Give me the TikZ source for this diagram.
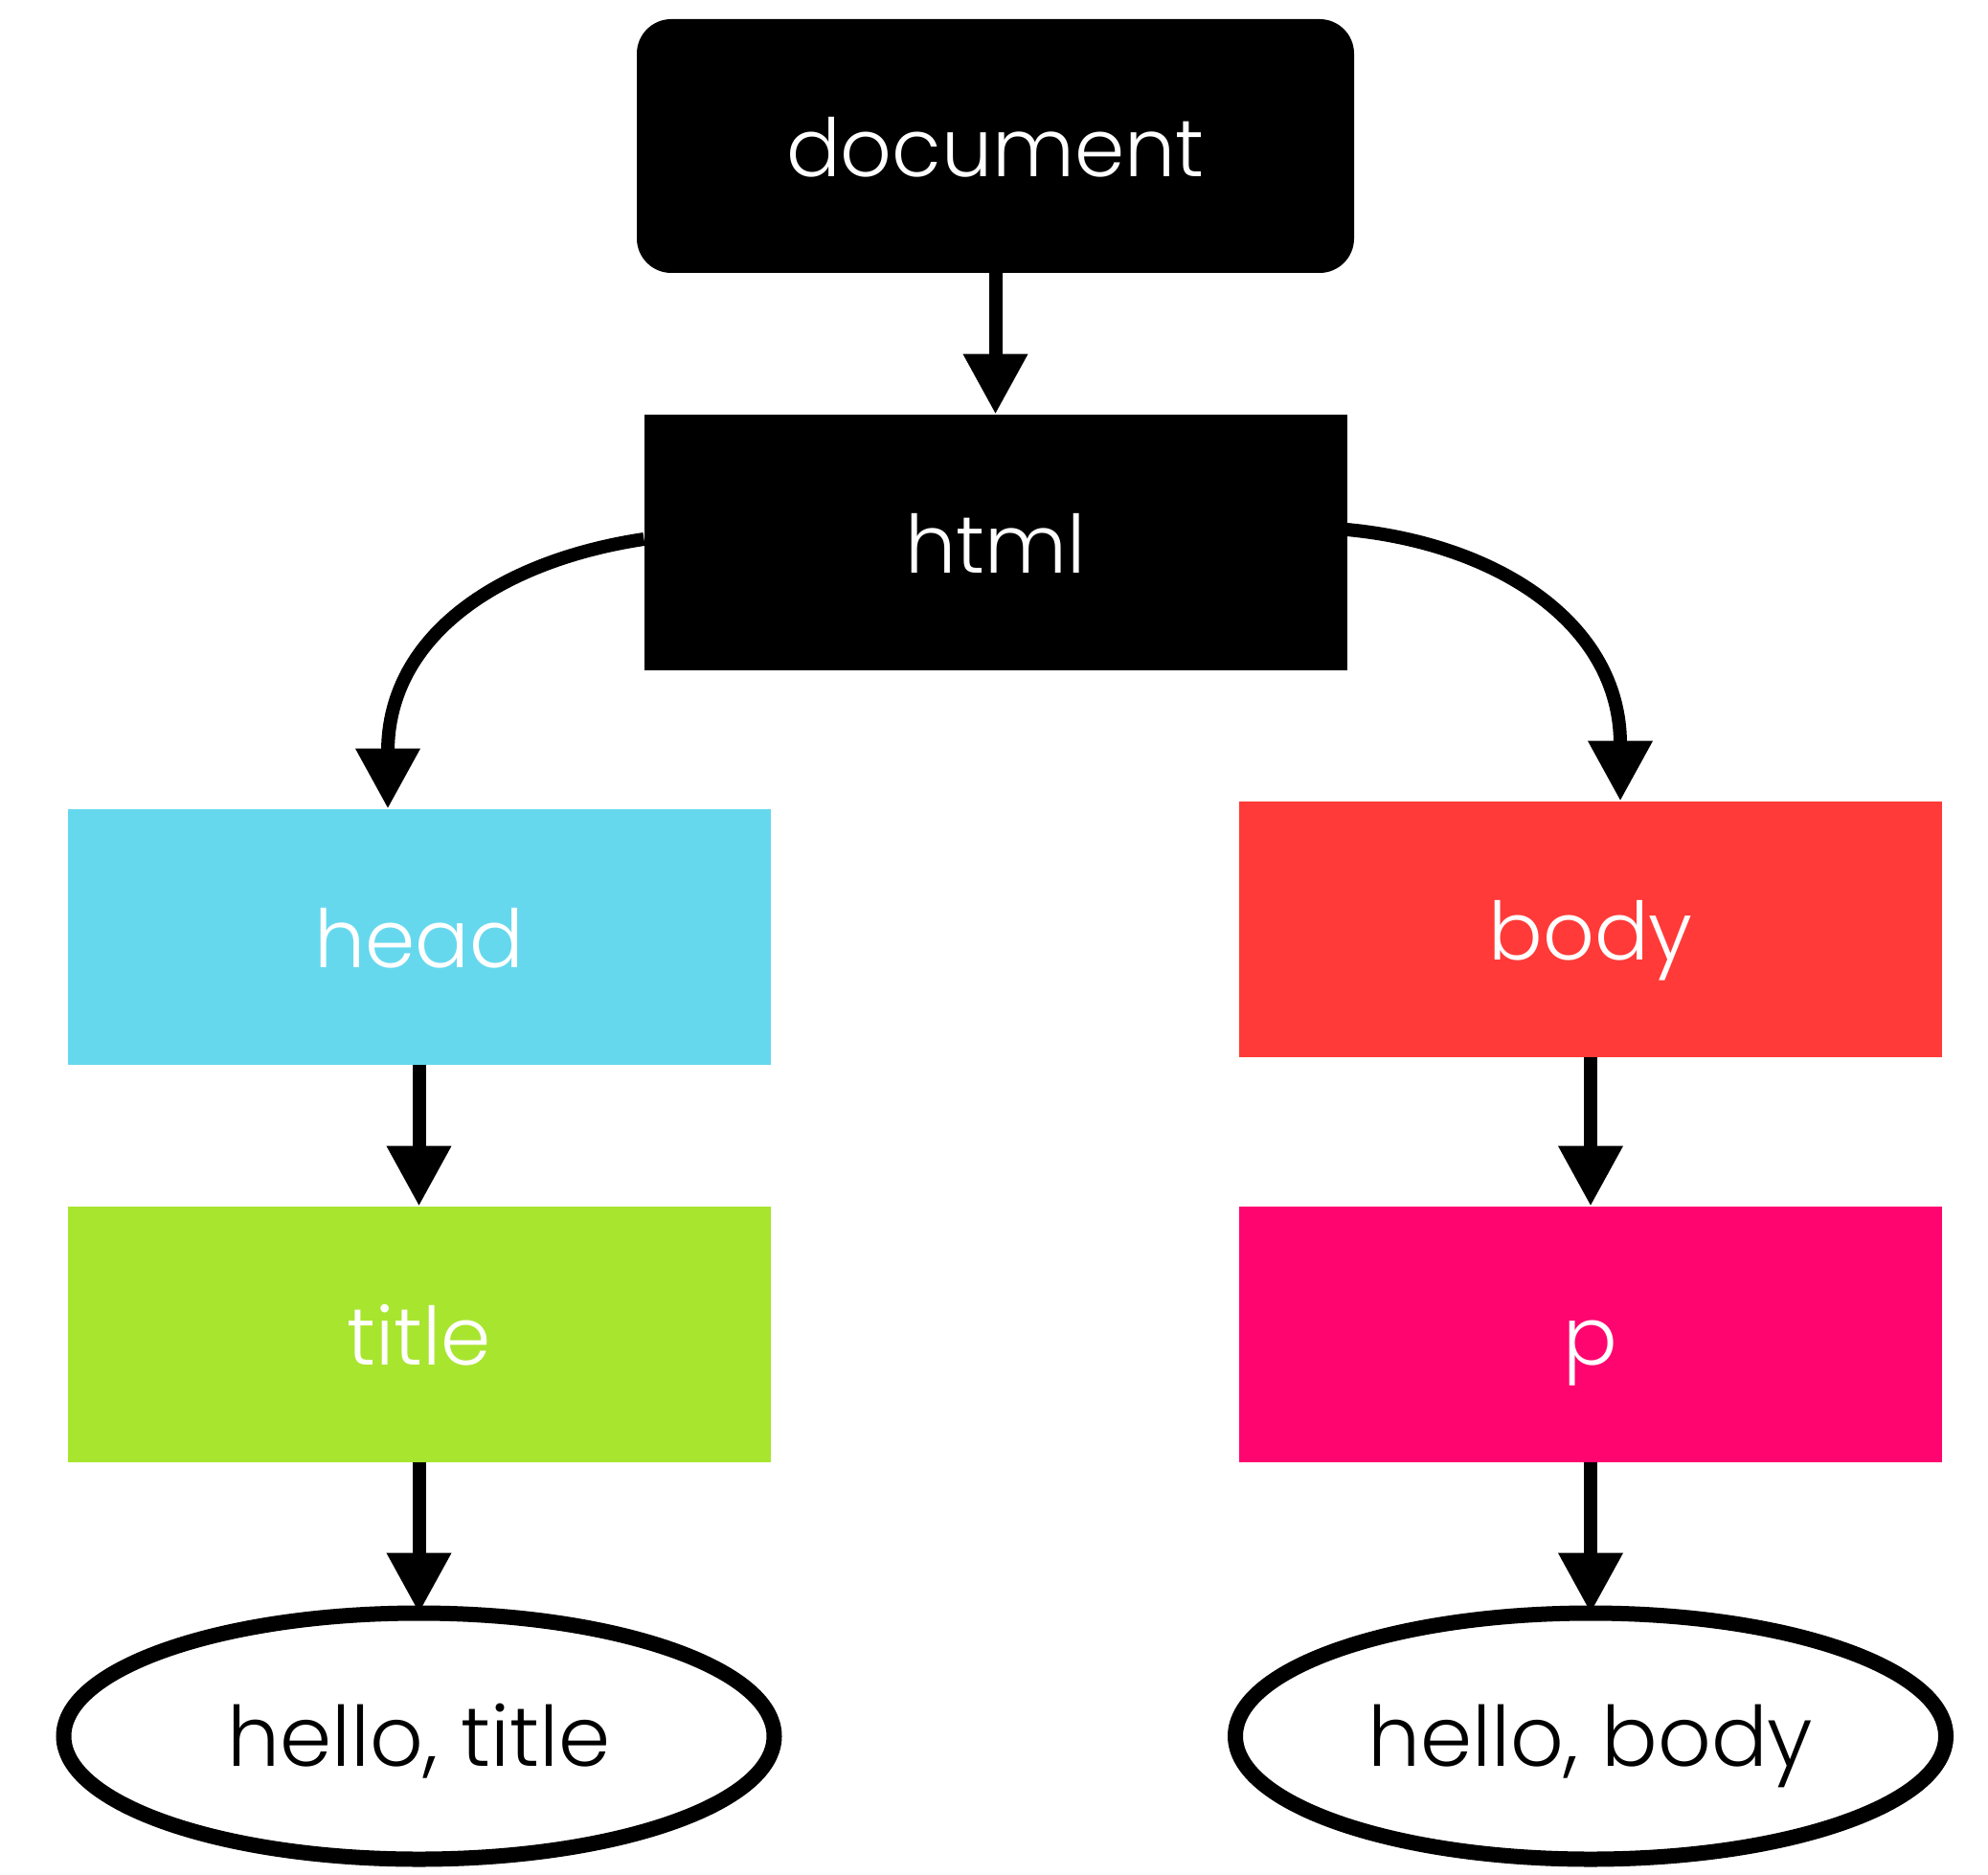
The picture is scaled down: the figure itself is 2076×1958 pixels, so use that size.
\documentclass[tikz,border=0pt]{standalone}
\usepackage{fontspec}
\setmainfont{Poppins}[UprightFont={* Light}]
\usetikzlibrary{arrows.meta,shapes.geometric}
\definecolor{headc}{HTML}{66D8EE}
\definecolor{bodyc}{HTML}{FF3A38}
\definecolor{titlec}{HTML}{A8E52F}
\definecolor{pc}{HTML}{FF0570}
\begin{document}
\begin{tikzpicture}[x=1pt,y=-1pt,
  box/.style={rectangle,inner sep=0pt,outer sep=0pt,minimum width=734pt,minimum height=267pt,text=white,text height=64pt,text depth=0pt,font=\fontsize{84}{100}\selectfont},
  leaf/.style={ellipse,draw=black,line width=16pt,inner sep=0pt,outer sep=0pt,minimum width=742pt,minimum height=257pt,text=black,text height=62pt,text depth=0pt,font=\fontsize{87}{100}\selectfont},
  conn/.style={line width=14pt,-{Triangle[length=63pt,width=64pt]}}]
\useasboundingbox (0,0) rectangle (2076,1958);
\node[box,fill=black,rounded corners=36pt,minimum width=749pt,minimum height=265pt] (doc) at (1039.5,152.5) {document};
\node[box,fill=black] (html) at (1039.5,566) {html};
\node[box,fill=headc] (head) at (437.5,978) {head};
\node[box,fill=bodyc] (body) at (1661,970) {body};
\node[box,fill=titlec] (title) at (437.5,1393) {title};
\node[box,fill=pc] (p) at (1661,1393) {p};
\node[leaf] (ht) at (437.5,1813) {hello, title};
\node[leaf] (hb) at (1661,1813) {hello, body};
\draw[conn] (doc.south) -- (html.north);
\draw[conn] ([yshift=3pt]html.west) .. controls (525,585) and (405,662) .. ([xshift=-32.5pt]head.north);
\draw[conn] ([yshift=13pt]html.east) .. controls (1565,568) and (1692,652) .. ([xshift=31pt]body.north);
\draw[conn] (head.south) -- (title.north);
\draw[conn] (body.south) -- (p.north);
\draw[conn] (title.south) -- (ht.north);
\draw[conn] (p.south) -- (hb.north);
\end{tikzpicture}
\end{document}
